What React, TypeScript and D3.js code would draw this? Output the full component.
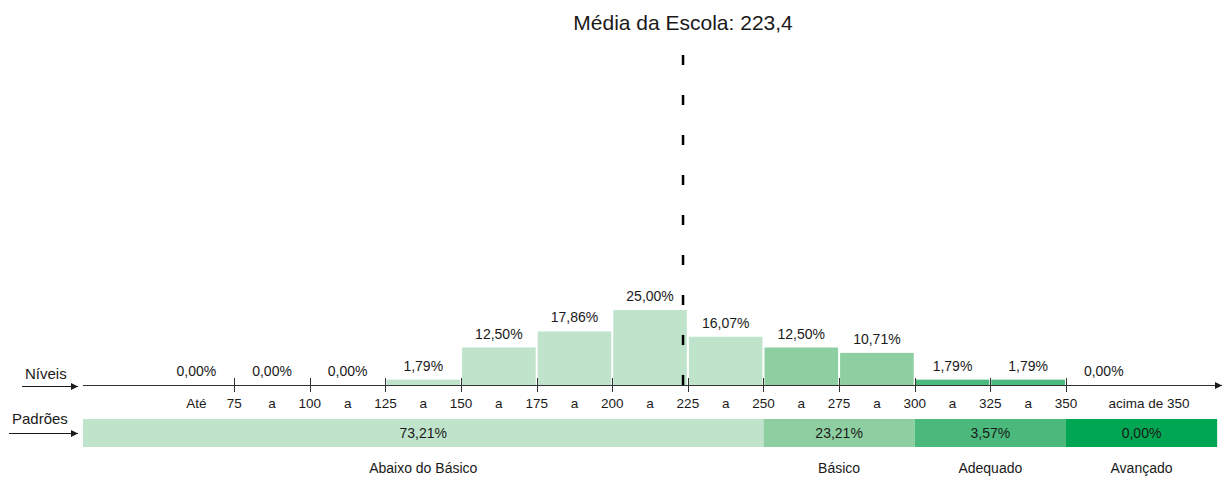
import React, { useEffect, useRef } from "react";
import * as d3 from "d3";

// níveis (faixas de proficiência)
const binEdges = [50, 75, 100, 125, 150, 175, 200, 225, 250, 275, 300, 325, 350, 375];
const levelValues = [0, 0, 0, 1.79, 12.5, 17.86, 25.0, 16.07, 12.5, 10.71, 1.79, 1.79, 0];
const tickValues = [75, 100, 125, 150, 175, 200, 225, 250, 275, 300, 325, 350];
const intervalLabels = ["Até", "a", "a", "a", "a", "a", "a", "a", "a", "a", "a", "a"];
const lastLabel = "acima de 350";

// padrões de desempenho
const standards = ["Abaixo do Básico", "Básico", "Adequado", "Avançado"];
const standardValues = [73.21, 23.21, 3.57, 0.0];
const standardStart = [25, 250, 300, 350];
const standardEnd = [250, 300, 350, 400];
const standardColors = ["#c0e3cb", "#8ecfa2", "#4ab97b", "#00a651"];

const schoolMean = 223.4;

const fmt = (v: number) => v.toFixed(2).replace(".", ",") + "%";
const FONT = "'Liberation Sans', Arial, Helvetica, sans-serif";

const App = () => {
  const chartRef = useRef<HTMLDivElement>(null);

  useEffect(() => {
    const element = chartRef.current;
    if (!element) return;
    const width = 1224;
    const height = 477;
    const axisY = 385;

    d3.select(element).select("svg").remove();
    const svg = d3
      .select(element)
      .append("svg")
      .attr("width", width)
      .attr("height", height)
      .style("font-family", FONT)
      .style("display", "block");

    const x = d3.scaleLinear().domain([25, 401.6]).range([83, 1222]);
    const y = d3.scaleLinear().domain([0, 25]).range([axisY, 310]);

    const colourFor = (v: number) => {
      const i = standardStart.findIndex((s, k) => v >= s && v < standardEnd[k]);
      return standardColors[Math.max(0, i)];
    };

    // title
    svg
      .append("text")
      .attr("x", x(schoolMean))
      .attr("y", 30)
      .attr("text-anchor", "middle")
      .style("font-size", "21px")
      .style("fill", "#1a1a1a")
      .text("Média da Escola: " + schoolMean.toFixed(1).replace(".", ","));

    // histogram bars
    const bins = levelValues.map((v, i) => ({ lo: binEdges[i], hi: binEdges[i + 1], value: v }));
    svg
      .append("g")
      .attr("class", "bars")
      .selectAll("rect")
      .data(bins)
      .enter()
      .append("rect")
      .attr("x", (d) => x(d.lo) + 1)
      .attr("y", (d) => y(d.value))
      .attr("width", (d) => x(d.hi) - x(d.lo) - 2)
      .attr("height", (d) => axisY - y(d.value))
      .style("fill", (d) => colourFor(d.lo));

    svg
      .append("g")
      .attr("class", "labels")
      .selectAll("text")
      .data(bins)
      .enter()
      .append("text")
      .attr("x", (d) => x((d.lo + d.hi) / 2))
      .attr("y", (d) => y(d.value) - 9)
      .attr("text-anchor", "middle")
      .style("font-size", "14px")
      .style("fill", "#1a1a1a")
      .text((d) => fmt(d.value));

    // arrow marker
    svg
      .append("defs")
      .append("marker")
      .attr("id", "arrow")
      .attr("viewBox", "0 0 10 10")
      .attr("refX", 10)
      .attr("refY", 5)
      .attr("markerWidth", 10)
      .attr("markerHeight", 7)
      .attr("markerUnits", "userSpaceOnUse")
      .attr("orient", "auto")
      .append("path")
      .attr("d", "M0,0L10,5L0,10Z")
      .style("fill", "#1a1a1a");

    // x axis
    svg
      .append("line")
      .attr("x1", x.range()[0])
      .attr("x2", x.range()[1])
      .attr("y1", axisY + 0.5)
      .attr("y2", axisY + 0.5)
      .attr("stroke", "#333")
      .attr("marker-end", "url(#arrow)");

    const ticks = svg.append("g").attr("class", "ticks");
    ticks
      .selectAll("line")
      .data(tickValues)
      .enter()
      .append("line")
      .attr("x1", (d) => Math.round(x(d)) + 0.5)
      .attr("x2", (d) => Math.round(x(d)) + 0.5)
      .attr("y1", 378)
      .attr("y2", 392)
      .attr("stroke", "#333");
    ticks
      .selectAll("text.tick")
      .data(tickValues)
      .enter()
      .append("text")
      .attr("class", "tick")
      .attr("x", (d) => x(d))
      .attr("y", 408)
      .attr("text-anchor", "middle")
      .style("font-size", "13.5px")
      .style("fill", "#1a1a1a")
      .text((d) => d);
    ticks
      .selectAll("text.interval")
      .data(intervalLabels)
      .enter()
      .append("text")
      .attr("class", "interval")
      .attr("x", (d, i) => x((binEdges[i] + binEdges[i + 1]) / 2))
      .attr("y", 408)
      .attr("text-anchor", "middle")
      .style("font-size", "13.5px")
      .style("fill", "#1a1a1a")
      .text((d) => d);
    ticks
      .append("text")
      .attr("x", x(377.5))
      .attr("y", 408)
      .attr("text-anchor", "middle")
      .style("font-size", "13.5px")
      .style("fill", "#1a1a1a")
      .text(lastLabel);

    // standards bar
    const std = standards.map((name, i) => ({
      name,
      value: standardValues[i],
      lo: standardStart[i],
      hi: standardEnd[i],
      colour: standardColors[i],
    }));
    const stdG = svg.append("g").attr("class", "standards");
    stdG
      .selectAll("rect")
      .data(std)
      .enter()
      .append("rect")
      .attr("x", (d) => x(d.lo))
      .attr("y", 419)
      .attr("width", (d) => x(d.hi) - x(d.lo))
      .attr("height", 28)
      .style("fill", (d) => d.colour);
    stdG
      .selectAll("text.pct")
      .data(std)
      .enter()
      .append("text")
      .attr("class", "pct")
      .attr("x", (d) => x((d.lo + d.hi) / 2))
      .attr("y", 438)
      .attr("text-anchor", "middle")
      .style("font-size", "14px")
      .style("fill", "#1a1a1a")
      .text((d) => fmt(d.value));
    stdG
      .selectAll("text.name")
      .data(std)
      .enter()
      .append("text")
      .attr("class", "name")
      .attr("x", (d) => x((d.lo + d.hi) / 2))
      .attr("y", 473)
      .attr("text-anchor", "middle")
      .style("font-size", "14px")
      .style("fill", "#1a1a1a")
      .text((d) => d.name);

    // row labels with arrows
    const rows = [
      { label: "Níveis", tx: 25, ty: 379, x1: 22, ay: 386 },
      { label: "Padrões", tx: 12, ty: 424, x1: 9, ay: 433 },
    ];
    const rowG = svg.append("g").attr("class", "rows");
    rows.forEach((r) => {
      rowG
        .append("text")
        .attr("x", r.tx)
        .attr("y", r.ty)
        .style("font-size", "15px")
        .style("fill", "#1a1a1a")
        .text(r.label);
      rowG
        .append("line")
        .attr("x1", r.x1)
        .attr("x2", 78)
        .attr("y1", r.ay + 0.5)
        .attr("y2", r.ay + 0.5)
        .attr("stroke", "#1a1a1a")
        .attr("marker-end", "url(#arrow)");
    });

    // school mean dashed line
    svg
      .append("line")
      .attr("x1", x(schoolMean))
      .attr("x2", x(schoolMean))
      .attr("y1", 55)
      .attr("y2", 389)
      .attr("stroke", "#000")
      .attr("stroke-width", 2.5)
      .attr("stroke-dasharray", "10,30");
  }, []);

  return (
    <div style={{ position: "absolute", left: 0, top: 0 }}>
      <div ref={chartRef}></div>
    </div>
  );
};

export default App;
